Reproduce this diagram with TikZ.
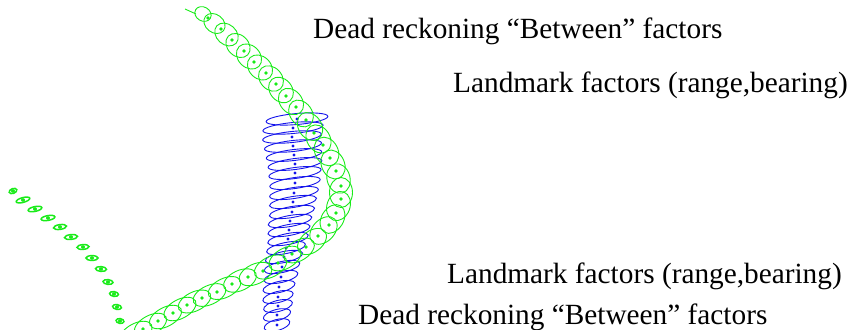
\documentclass[tikz,border=0pt]{standalone}
\usepackage{fontspec}
\setmainfont{Liberation Serif}
\definecolor{trackgreen}{RGB}{25,235,25}
\definecolor{trackblue}{RGB}{20,20,235}
\begin{document}
\begin{tikzpicture}[x=1pt,y=-1pt,
  gline/.style={draw=trackgreen,line width=0.9pt},
  bline/.style={draw=trackblue,line width=0.9pt},
  gdot/.style={fill=trackgreen},
  bdot/.style={fill=trackblue},
  lmark/.style={draw=trackgreen,line width=1.5pt},
  caption/.style={anchor=base west,inner sep=0pt,font=\fontsize{29.3}{35}\selectfont}]
\useasboundingbox (0,0) rectangle (850,329);
\begin{scope}
\clip (0,0) rectangle (850,329);

% blue track: pose covariance ellipses and pose dots
\foreach \x/\y in {297/119,293/128,292/137,293/146,294/155,295/164,295/173,
  295/183,294/193,293/202,292/212,290/221,289/230,288/239,286/248,284/257,
  282/267,281/277,279/287,278/297,278/306,277/315,277/325}{
  \pgfmathsetmacro\rx{31-0.0867*(\y-119)}
  \pgfmathsetmacro\tilt{5+0.05*(\y-119)}
  \draw[bline,rotate around={\tilt:(\x,\y)}] (\x,\y) ellipse [x radius=\rx pt,y radius=5.5pt];
  \fill[bdot] (\x,\y) circle (1.7pt);
}

% green track: lead-in of the trajectory
\coordinate (gstart) at (185,9);
\coordinate (gfirst) at (196,14);
\draw[gline] (gstart) .. controls (190,12) .. (gfirst);

% green track: pose covariance ellipses (centre / angle / along / across)
\foreach \x/\y/\t/\a/\b in {203/14/-30/8.5/7,214.5/23.5/-38/11.5/9,
  226.5/34.5/-42/13/10,238/45.5/-44/13.5/10.5,249/56.5/-45/14/11,
  260/67.5/-45/14/11,271/78.5/-48/14/11,281/90/-49/14/11,
  291/101.5/-50/14.5/11,301/113.5/-54/14.5/11,310/126.5/-56/15/11.5,
  318.5/139/-58/15/11.5,326.5/151.5/-62/15/11.5,333/164.5/-66/15/11.5,
  338.5/178.5/-75/15/11.5,341/192.5/-90/15/11.5,338.5/206/70/15/11.5,
  332.5/219/58/15.5/11,323.5/230.5/46/16/11,312/241.5/38/16.5/10.5,
  299/250.5/32/17/10,285/258.5/30/17.5/10,270.5/267/28/17.5/10,
  255.5/274/25/17.5/10,240/280.5/25/17.5/10,224.5/288/26/17.5/9.5,
  209.5/295/25/17.5/9.5,194.5/301.5/26/17.5/9.5,180/309/28/17.5/9.5,
  165.5/317/28/17.5/9.5,150.5/325/28/17.5/9.5,136/333/28/17.5/9.5}{
  \draw[gline,rotate around={\t:(\x,\y)}] (\x,\y) ellipse [x radius=\a pt,y radius=\b pt];
}

% green track: between-factor dots
\foreach \x/\y in {208/18,221/29,232/40,244/51,254/62,266/73,276/84,286/96,
  296/107,306/120,314/133,323/145,330/158,336/171,341/186,341/199,336/213,
  329/225,318/236,306/247,292/254,278/263,263/271,248/277,232/284,217/292,
  202/298,187/305,173/313,158/321,143/329}{
  \fill[gdot] (\x,\y) circle (1.8pt);
}

% landmark estimates: small ellipses with centre dots
\foreach \x/\y/\t/\a in {13/191/20/4,23/200/15/7,35/209/12/7,48/218/10/7,
  60/227/8/6.5,71/237/6/6.5,83/247/4/6,92/258/0/6,101/269/-4/5.5,
  108/282/-6/5,114/294/-8/4.5,117/307/-10/4.5,120/321/-10/4}{
  \draw[lmark,rotate around={\t:(\x,\y)}] (\x,\y) ellipse [x radius=\a pt,y radius=2.4pt];
  \fill[gdot] (\x,\y) ellipse [x radius=2pt,y radius=1.8pt];
}
\end{scope}

% captions
\node[caption] (drtop) at (313,38) {Dead reckoning “Between” factors};
\node[caption] (lmtop) at (453,92) {Landmark factors (range,bearing)};
\node[caption] (lmbot) at (447,283) {Landmark factors (range,bearing)};
\node[caption] (drbot) at (358,324) {Dead reckoning “Between” factors};
\end{tikzpicture}
\end{document}
